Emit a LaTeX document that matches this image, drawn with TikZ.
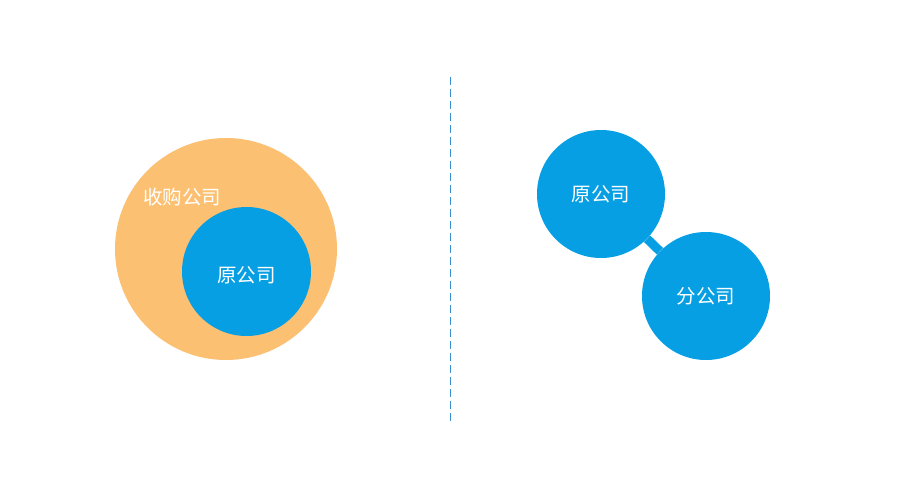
\documentclass[tikz,border=0pt]{standalone}
\usepackage{fontspec}
\newfontfamily\cjk{Noto Sans CJK SC}
\definecolor{orangefill}{HTML}{FCC072}
\definecolor{bluefill}{HTML}{069FE3}
\definecolor{dashblue}{HTML}{3A8FD0}
\begin{document}
\begin{tikzpicture}[x=1pt,y=-1pt,
  blob/.style={circle,fill=#1,draw=none,inner sep=0pt},
  lbl/.style={text=white,font=\cjk\fontsize{19.5}{22}\selectfont,inner sep=0pt},
  divider/.style={draw=dashblue,line width=1pt,dash pattern=on 8pt off 4pt}]
\useasboundingbox[fill=white] (0,0) rectangle (900,500);
% left
\node[blob=orangefill,minimum size=222pt] (acq) at (226,249) {};
\node[blob=bluefill,minimum size=129pt] (orig) at (246.5,271.5) {};
\node[lbl] (acqt) at (182,197) {收购公司};
\node[lbl] (origt) at (246.5,275) {原公司};
% divider
\coordinate (dtop) at (450,77);
\coordinate (dbot) at (450,422);
\draw[divider] (dtop) -- (dbot);
% right
\node[blob=bluefill,minimum size=128pt] (ra) at (601,194) {};
\node[blob=bluefill,minimum size=128pt] (rb) at (706,296) {};
\draw[bluefill,line width=9pt] (ra) -- (rb);
\node[lbl] (rat) at (601,194) {原公司};
\node[lbl] (rbt) at (706,296) {分公司};
\end{tikzpicture}
\end{document}
